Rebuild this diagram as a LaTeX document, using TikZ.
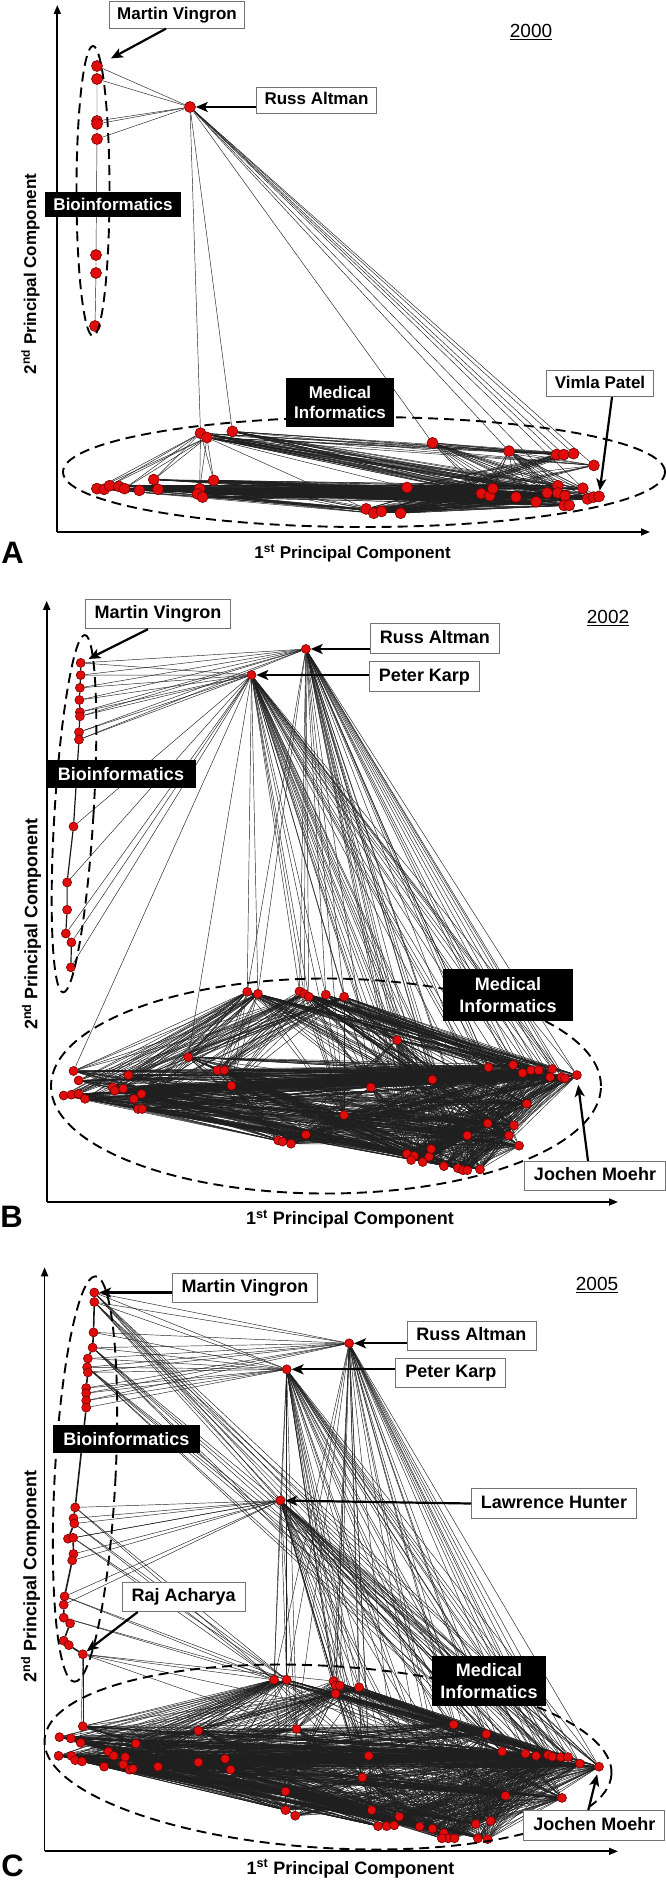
\documentclass[tikz,border=0pt]{standalone}
\usepackage{fontspec}
\setmainfont{Liberation Sans}
\usetikzlibrary{arrows.meta, positioning, backgrounds, calc}
\definecolor{dotred}{RGB}{225,12,12}
\definecolor{dotrim}{RGB}{115,0,0}
\newcommand{\labfont}{\fontsize{18}{21.5}\selectfont\bfseries}
\newcommand{\labfontA}{\fontsize{17}{20.5}\selectfont\bfseries}
\newcommand{\yearfont}{\fontsize{19}{22}\selectfont}
\newcommand{\panelfont}{\fontsize{31}{34}\selectfont\bfseries}
\tikzstyle{dot} = [circle, fill=dotred, draw=dotrim, line width=0.6pt, inner sep=0pt, minimum size=9pt]
\tikzstyle{edge} = [line width=0.45pt, black!88]
\tikzstyle{chain} = [line width=1.2pt, black!90]
\tikzstyle{axis} = [line width=1.7pt, -{Triangle[length=9pt,width=7pt]}]
\tikzstyle{callout} = [line width=2.2pt, -{Stealth[length=12pt,width=10pt,inset=3pt]}]
\tikzstyle{namebox} = [rectangle, draw=black!55, line width=0.8pt, fill=white, font=\labfont, inner xsep=9.5pt, inner ysep=0pt, minimum height=29.5pt, text height=13pt, text depth=3.5pt]
\tikzstyle{fieldbox} = [rectangle, fill=black, text=white, font=\labfont, align=center, inner sep=0pt]
\tikzstyle{group} = [line width=1.9pt, dash pattern=on 10pt off 6pt]
\tikzstyle{axislabel} = [font=\labfont]

\begin{document}
\begin{tikzpicture}[x=1pt, y=-1pt]
  \useasboundingbox (0,0) rectangle (666,1881);
  \begin{scope}[on background layer]
    \fill[white] (0,0) rectangle (666,1881);
  \end{scope}

  % ---------------- panel A (2000) ----------------
  \begin{scope}[namebox/.append style={font=\labfontA, inner xsep=8pt, minimum height=26.5pt, text height=12.5pt},
                dot/.append style={minimum size=11pt}, axislabel/.append style={font=\labfontA}]
    \coordinate (aO) at (57.3,532);
    \coordinate (aX) at (650,532);
    \coordinate (aY) at (57.3,5);
    \draw[axis] (aO) -- (aX);
    \draw[axis] (aO) -- (aY);

    \foreach \n/\x/\y in {1/97/66, 2/97/79, 3/97/121, 4/97/124, 5/97/139, 6/96/255, 7/96/273, 8/95/326}
      \node[dot] (aB\n) at (\x,\y) {};
    \node[dot] (aRuss) at (190,107) {};
    \foreach \n/\x/\y in {1/200.5/433.2, 2/206.9/437.5, 3/232.4/431.4}
      \node[dot] (aT\n) at (\x,\y) {};
    \foreach \n/\x/\y in {1/432.5/442.9, 2/508.9/451.1, 3/407/487.5}
      \node[dot] (aM\n) at (\x,\y) {};
    \foreach \n/\x/\y in {1/556.5/454.6, 2/563.7/454.6, 3/573.5/453.6, 4/593.9/465.4, 5/481.3/493.6,
        6/489.8/495.7, 7/492.8/488.6, 8/516.1/497.1, 9/536.1/501.8, 10/547.2/492.9, 11/557.8/485.7,
        12/557.8/492.9, 13/565/495.7, 14/582.8/488.2, 15/587.5/498.9, 16/593.5/497.1, 17/599/496.4,
        18/564.1/505.4, 19/569.2/505.4}
      \node[dot] (aR\n) at (\x,\y) {};
    \foreach \n/\x/\y in {1/96.9/488.6, 2/104.1/489.3, 3/109.6/485.7, 4/118.9/486.4, 5/124.5/488.6,
        6/139.3/490.4, 7/153.8/479.6, 8/158/489.3, 9/199.7/488.6, 10/197.5/493.9, 11/202.6/497.1, 12/213.7/480.4}
      \node[dot] (aL\n) at (\x,\y) {};
    \foreach \n/\x/\y in {1/366.2/508.9, 2/373.8/513.2, 3/381.5/511.4, 4/400.6/513.2}
      \node[dot] (aD\n) at (\x,\y) {};

    \begin{scope}[on background layer]
      \draw[edge] (aB1) -- (aB2) -- (aB3) -- (aB4) -- (aB5) -- (aB6) -- (aB7) -- (aB8);
      \foreach \t in {aB1,aB2,aB3,aB4,aB5,aT1,aT3,aM1,aM2,aR1,aR2,aR3,aR4,aR11,aR14}
        \draw[edge] (aRuss) -- (\t);
      \foreach \s in {aT1,aT2,aT3,aM1,aM2,aM3} \foreach \t in {1,...,19}
        \draw[edge] (\s) -- (aR\t);
      \foreach \s in {1,...,12} \foreach \t in {5,...,19}
        \draw[edge] (aL\s) -- (aR\t);
      \foreach \s in {1,...,4} \foreach \t in {1,...,19}
        \draw[edge] (aD\s) -- (aR\t);
      \foreach \s in {aT1,aT2} \foreach \t in {1,3,5,7,9,12}
        \draw[edge] (\s) -- (aL\t);
      \foreach \s in {2,5,8,10,12} \foreach \t in {1,...,4}
        \draw[edge] (aL\s) -- (aD\t);
      \foreach \t in {aM3,aD1} \draw[edge] (aT2) -- (\t);
    \end{scope}

    \draw[group] (93,191) ellipse [x radius=16.5pt, y radius=145pt];
    \draw[group] (364,472) ellipse [x radius=301pt, y radius=55pt];

    \node[namebox] (aVingron) at (177,15) {Martin Vingron};
    \node[namebox] (aRussLab) at (316.5,100.5) {Russ Altman};
    \node[namebox] (aPatel) at (600,383.5) {Vimla Patel};
    \node[fieldbox, font=\labfontA, minimum width=136pt, minimum height=25pt] (aBio) at (113,204.5) {Bioinformatics};
    \node[fieldbox, font=\labfontA, minimum width=108pt, minimum height=49pt] (aMed) at (340,402.5) {Medical\\Informatics};
    \node[font=\yearfont] (aYear) at (531,32) {\underline{2000}};

    \draw[callout, shorten >=10pt] ([xshift=-11pt]aVingron.south) -- (aB1);
    \draw[callout] (aRussLab.west |- aRuss) -- (aRuss);
    \draw[callout] ([xshift=12pt]aPatel.south) -- (aR17);

    \node[axislabel, rotate=90] (aYlab) at (30.5,274) {2\textsuperscript{nd} Principal Component};
    \node[axislabel] (aXlab) at (352.6,553.6) {1\textsuperscript{st} Principal Component};
    \node[font=\panelfont] (aPanel) at (12.5,552.5) {A};
  \end{scope}

  % ---------------- panel B (2002) ----------------
  \coordinate (bO) at (46.7,1202);
  \coordinate (bX) at (618,1202);
  \coordinate (bY) at (46.7,600.8);
  \draw[axis] (bO) -- (bX);
  \draw[axis] (bO) -- (bY);

  \foreach \n/\x/\y in {1/80.7/662.9, 2/80.7/675.1, 3/79.9/687.8, 4/79.4/700, 5/79.9/712.2, 6/79.9/716.3,
      7/79/732.2, 8/79/739.6, 9/73.5/826.5, 10/67.1/882.4, 11/67.1/909.8, 12/65.8/933.5, 13/71.4/942.4, 14/70.9/967.3}
    \node[dot] (bB\n) at (\x,\y) {};
  \node[dot] (bRuss) at (305.9,649) {};
  \node[dot] (bKarp) at (251.5,675) {};
  \foreach \n/\x/\y in {1/247.2/991.8, 2/257.9/993.9, 3/299.5/991.4, 4/304.2/993.9, 5/308.8/996.7, 6/325.8/994.7, 7/344.1/996.7}
    \node[dot] (bT\n) at (\x,\y) {};
  \foreach \n/\x/\y in {1/488.5/1067.3, 2/513.2/1064.9, 3/522.5/1073, 4/531/1070.2, 5/538.7/1070.2, 6/552.3/1069,
      7/550.1/1077.1, 8/561.6/1077.1, 9/565/1078.4, 10/576.9/1075.1, 11/526.8/1103.7, 12/487.7/1123.3,
      13/514/1125.3, 14/508.9/1135.5, 15/519.1/1145.7, 16/467.3/1135.5}
    \node[dot] (bR\n) at (\x,\y) {};
  \foreach \n/\x/\y in {1/397.2/1040, 2/188.2/1057.1, 3/217.5/1070.2, 4/224.3/1070.2, 5/231.5/1085.7,
      6/370.9/1087.3, 7/432.5/1079.6, 8/344.1/1115.1}
    \node[dot] (bM\n) at (\x,\y) {};
  \foreach \n/\x/\y in {1/73.5/1071, 2/78.6/1080.4, 3/63.7/1095.5, 4/71.4/1094.7, 5/78.6/1093.9, 6/85/1098.8,
      7/112.6/1087.3, 8/114.7/1090.6, 9/123.2/1088.6, 10/128.3/1075.1, 11/133.8/1098.8, 12/141.5/1093.9,
      13/138.1/1109, 14/142.3/1109}
    \node[dot] (bL\n) at (\x,\y) {};
  \foreach \n/\x/\y in {1/305.9/1134.7, 2/278.2/1140.4, 3/282.5/1141.6, 4/291/1143.7, 5/407/1153.9,
      6/414.2/1155.9, 7/411.2/1160, 8/422.7/1162, 9/429.1/1156.7, 10/431.2/1149, 11/443.9/1166.1,
      12/457.9/1168.2, 13/463/1170.2, 14/467.3/1170.2, 15/480/1169.4}
    \node[dot] (bD\n) at (\x,\y) {};

  \begin{scope}[on background layer]
    \draw[chain] (bB1) -- (bB2) -- (bB3) -- (bB4) -- (bB5) -- (bB6) -- (bB7) -- (bB8) -- (bB9)
      -- (bB10) -- (bB11) -- (bB12) -- (bB13) -- (bB14);
    \foreach \t in {1,...,8} {
      \draw[edge] (bRuss) -- (bB\t);
      \draw[edge] (bKarp) -- (bB\t);
    }
    \foreach \t in {bB9,bB10,bB12,bB13,bB14,bL1,bM2} \draw[edge] (bKarp) -- (\t);
    \foreach \s in {bRuss,bKarp} {
      \foreach \t in {1,...,7} \draw[edge] (\s) -- (bT\t);
      \foreach \t in {1,...,16} \draw[edge] (\s) -- (bR\t);
      \foreach \t in {5,...,15} \draw[edge] (\s) -- (bD\t);
      \foreach \t in {1,6,7,8} \draw[edge] (\s) -- (bM\t);
    }
    \foreach \s in {1,...,7} \foreach \t in {1,...,16} \draw[edge] (bT\s) -- (bR\t);
    \foreach \s in {1,2,4,7} \foreach \t in {1,...,14} \draw[edge] (bT\s) -- (bL\t);
    \foreach \s in {1,...,7} \foreach \t in {1,...,8} \draw[edge] (bT\s) -- (bM\t);
    \foreach \s in {1,...,14} \foreach \t in {1,...,16} \draw[edge] (bL\s) -- (bR\t);
    \foreach \s in {1,...,14} \foreach \t in {1,4,6,9,12,15} \draw[edge] (bL\s) -- (bD\t);
    \foreach \s in {1,...,8} \foreach \t in {1,...,16} \draw[edge] (bM\s) -- (bR\t);
    \foreach \s in {1,...,8} \foreach \t in {1,...,15} \draw[edge] (bM\s) -- (bD\t);
    \foreach \s in {1,...,15} \foreach \t in {1,...,16} \draw[edge] (bD\s) -- (bR\t);
  \end{scope}

  \draw[group, rotate around={-3.5:(74,813.7)}] (74,813.7) ellipse [x radius=19.5pt, y radius=179pt];
  \draw[group] (326,1086) ellipse [x radius=275pt, y radius=107.5pt];

  \node[namebox] (bVingron) at (158,614) {Martin Vingron};
  \node[namebox] (bRussLab) at (435,638.5) {Russ Altman};
  \node[namebox] (bKarpLab) at (424.5,676.5) {Peter Karp};
  \node[namebox] (bMoehr) at (595,1176) {Jochen Moehr};
  \node[fieldbox, minimum width=150pt, minimum height=28.6pt] (bBio) at (121,774) {Bioinformatics};
  \node[fieldbox, minimum width=130pt, minimum height=52pt] (bMed) at (508,995) {Medical\\Informatics};
  \node[font=\yearfont] (bYear) at (608,618) {\underline{2002}};

  \draw[callout, shorten >=4pt] ([xshift=-10pt]bVingron.south) -- (bB1);
  \draw[callout] (bRussLab.west |- bRuss) -- (bRuss);
  \draw[callout] (bKarpLab.west |- bKarp) -- (bKarp);
  \draw[callout, shorten >=5pt] ([xshift=-7pt]bMoehr.north) -- (bR10);

  \node[axislabel, rotate=90] (bYlab) at (31.5,924) {2\textsuperscript{nd} Principal Component};
  \node[axislabel] (bXlab) at (350,1219.5) {1\textsuperscript{st} Principal Component};
  \node[font=\panelfont] (bPanel) at (11.5,1217) {B};

  % ---------------- panel C (2005) ----------------
  \coordinate (cO) at (44.6,1851.3);
  \coordinate (cX) at (618,1851.3);
  \coordinate (cY) at (44.6,1267.3);
  \draw[axis] (cO) -- (cX);
  \draw[axis] (cO) -- (cY);

  \foreach \n/\x/\y in {1/94.3/1292.5, 2/94.3/1302, 3/93.5/1332.4, 4/92.6/1347.6, 5/87.9/1358.5, 6/87.1/1367.2,
      7/87.9/1372.4, 8/86.2/1388, 9/86.2/1393.2, 10/86.2/1400.6, 11/86.2/1407.6, 12/75.2/1507.4,
      13/73.5/1518.3, 14/74.3/1523.5, 15/68/1538.7, 16/73.1/1537.8, 17/73.5/1553.9, 18/72.2/1560.4,
      19/64.6/1596.4, 20/63.7/1604.7, 21/63.7/1617.7, 22/70.1/1623.4, 23/63.7/1640.7, 24/68.8/1645.1}
    \node[dot] (cB\n) at (\x,\y) {};
  \node[dot] (cRaj) at (82.8,1654.2) {};
  \node[dot] (cRuss) at (349.2,1343.3) {};
  \node[dot] (cKarp) at (286.7,1369.3) {};
  \node[dot] (cHunter) at (280.4,1500.5) {};
  \foreach \n/\x/\y in {1/274/1679.8, 2/286.7/1679.8, 3/333.5/1681.1, 4/335.6/1685.5, 5/339.8/1685.5,
      6/335.6/1693.7, 7/359/1687.2}
    \node[dot] (cT\n) at (\x,\y) {};
  \foreach \n/\x/\y in {1/453.7/1724.5, 2/486.4/1734.1, 3/502.1/1751.5, 4/525.5/1753.6, 5/536.1/1755.8,
      6/548/1754.9, 7/552.3/1756.7, 8/560.7/1757.1, 9/568/1757.1, 10/579.9/1763.6, 11/599/1766.7,
      12/505.5/1795.7, 13/562/1797.9}
    \node[dot] (cR\n) at (\x,\y) {};
  \foreach \n/\x/\y in {1/198.4/1730.6, 2/296.5/1728.9, 3/368.7/1755.8, 4/362.4/1777.5, 5/198.4/1762.3,
      6/225.1/1758.8, 7/230.7/1769.7, 8/285.5/1791.4}
    \node[dot] (cM\n) at (\x,\y) {};
  \foreach \n/\x/\y in {1/82.8/1726.3, 2/59.5/1737.1, 3/70.9/1738.4, 4/80.7/1742.8, 5/135.9/1743.6,
      6/58.6/1755.8, 7/71.4/1755.8, 8/75.2/1760.1, 9/82/1761.4, 10/108.3/1751.5, 11/113.8/1755.8,
      12/125.3/1757.1, 13/123.2/1764.5, 14/129.6/1769.7, 15/133/1768.8, 16/104.1/1766.6, 17/158/1766.6}
    \node[dot] (cL\n) at (\x,\y) {};
  \foreach \n/\x/\y in {1/285.5/1810.1, 2/295.2/1815.7, 3/371.7/1810.1, 4/399.3/1816.6, 5/378.1/1826.1,
      6/386.6/1826.1, 7/394.2/1825.3, 8/419.7/1826.6, 9/432.5/1828.7, 10/443.9/1833.1, 11/448.2/1838.3,
      12/441.8/1838.3, 13/454.5/1838.3, 14/475.8/1824, 15/490.7/1820.9, 16/477.9/1838.3, 17/487.7/1839.1}
    \node[dot] (cD\n) at (\x,\y) {};

  \begin{scope}[on background layer]
    \draw[chain, line width=1.6pt] (cB1) -- (cB2) -- (cB3) -- (cB4) -- (cB5) -- (cB6) -- (cB7) -- (cB8)
      -- (cB9) -- (cB10) -- (cB11) -- (cB12) -- (cB13) -- (cB14) -- (cB15) -- (cB16) -- (cB17)
      -- (cB18) -- (cB19) -- (cB20) -- (cB21) -- (cB22) -- (cB23) -- (cB24) -- (cRaj);
    \foreach \t in {1,...,10} \draw[edge] (cRuss) -- (cB\t);
    \foreach \t in {1,...,11} \draw[edge] (cKarp) -- (cB\t);
    \foreach \t in {12,...,20} \draw[edge] (cHunter) -- (cB\t);
    \draw[edge] (cKarp) -- (cHunter);
    \foreach \s in {cRuss,cKarp,cHunter} {
      \foreach \t in {1,...,7} \draw[edge] (\s) -- (cT\t);
      \foreach \t in {1,...,13} \draw[edge] (\s) -- (cR\t);
      \foreach \t in {3,4,9,11,13,15,17} \draw[edge] (\s) -- (cD\t);
      \foreach \t in {2,3,4} \draw[edge] (\s) -- (cM\t);
    }
    \foreach \s in {1,2,4,6} \foreach \t in {3,6,9,11,13} \draw[edge] (cB\s) -- (cR\t);
    \foreach \s in {12,14,16,19,21} \foreach \t in {1,2} \draw[edge] (cB\s) -- (cT\t);
    \foreach \t in {cT1,cT3,cM2,cR11,cL1,cL4} \draw[edge] (cRaj) -- (\t);
    \foreach \s in {1,...,7} \foreach \t in {1,...,13} \draw[edge] (cT\s) -- (cR\t);
    \foreach \s in {1,2,7} \foreach \t in {1,...,17} \draw[edge] (cT\s) -- (cL\t);
    \foreach \s in {1,...,7} \foreach \t in {1,...,8} \draw[edge] (cT\s) -- (cM\t);
    \foreach \s in {1,...,17} \foreach \t in {1,...,13} \draw[edge] (cL\s) -- (cR\t);
    \foreach \s in {1,...,17} \foreach \t in {1,3,5,8,10,14,17} \draw[edge] (cL\s) -- (cD\t);
    \foreach \s in {1,...,8} \foreach \t in {1,...,13} \draw[edge] (cM\s) -- (cR\t);
    \foreach \s in {1,...,8} \foreach \t in {1,...,17} \draw[edge] (cM\s) -- (cD\t);
    \foreach \s in {1,...,17} \foreach \t in {1,...,13} \draw[edge] (cD\s) -- (cR\t);
    \foreach \s in {1,...,17} \foreach \t in {1,...,8} \draw[edge] (cL\s) -- (cM\t);
  \end{scope}

  \draw[group, rotate around={-3:(85,1479)}] (85,1479) ellipse [x radius=30.4pt, y radius=203pt];
  \draw[group, rotate around={-3.5:(328,1757)}] (328,1757) ellipse [x radius=284pt, y radius=91pt];

  \node[namebox] (cVingron) at (245,1288) {Martin Vingron};
  \node[namebox] (cRussLab) at (471.5,1336) {Russ Altman};
  \node[namebox] (cKarpLab) at (450.8,1373) {Peter Karp};
  \node[namebox] (cHunterLab) at (554,1503.5) {Lawrence Hunter};
  \node[namebox] (cRajLab) at (183.7,1596.8) {Raj Acharya};
  \node[namebox] (cMoehr) at (594.3,1825.3) {Jochen Moehr};
  \node[fieldbox, minimum width=146.6pt, minimum height=28.6pt] (cBio) at (126.4,1438.8) {Bioinformatics};
  \node[fieldbox, minimum width=114pt, minimum height=50pt] (cMed) at (489,1681) {Medical\\Informatics};
  \node[font=\yearfont] (cYear) at (597,1284.7) {\underline{2005}};

  \draw[callout] (cVingron.west |- cB1) -- (cB1);
  \draw[callout] (cRussLab.west |- cRuss) -- (cRuss);
  \draw[callout] (cKarpLab.west |- cKarp) -- (cKarp);
  \draw[callout] (cHunterLab.west) -- (cHunter);
  \draw[callout] ([xshift=16pt]cRajLab.south west) -- (cRaj);
  \draw[callout, shorten >=3pt] ([xshift=-6pt]cMoehr.north) -- (cR11);

  \node[axislabel, rotate=90] (cYlab) at (30.5,1576.5) {2\textsuperscript{nd} Principal Component};
  \node[axislabel] (cXlab) at (350.5,1868.7) {1\textsuperscript{st} Principal Component};
  \node[font=\panelfont] (cPanel) at (12.5,1866) {C};
\end{tikzpicture}
\end{document}
